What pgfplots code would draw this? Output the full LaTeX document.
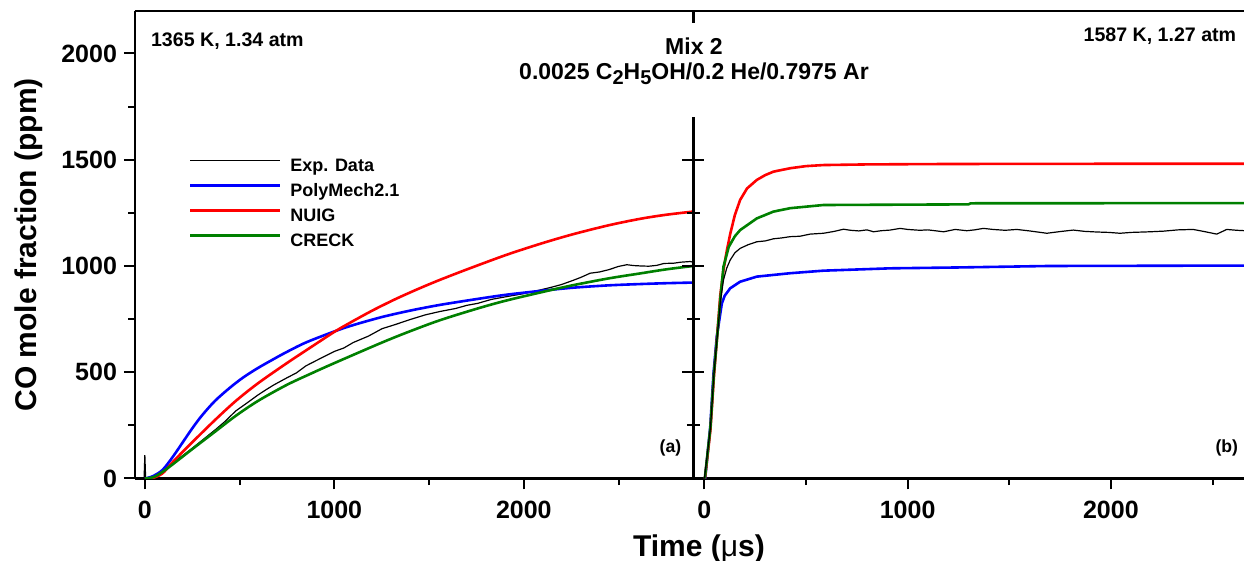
\documentclass[border=0pt]{standalone}
\usepackage{fontspec}
\setmainfont{Liberation Sans}
\usepackage{pgfplots}
\pgfplotsset{compat=1.18}
\definecolor{cgreen}{RGB}{0,128,0}
\newcommand\sub[1]{\raisebox{-2.5pt}{\fontsize{10}{10}\selectfont #1}}

\pgfplotsset{
  panel/.style={
    scale only axis, height=233.75pt,
    ymin=0, ymax=2200,
    xtick={0,1000,2000}, minor xtick={500,1500,2500},
    tick align=outside, major tick length=5.5pt, minor tick length=3.3pt,
    tick style={black, line width=1pt},
    axis line style={line width=1.3pt, -},
    ticklabel style={font=\bfseries\fontsize{12.5}{14}\selectfont},
    /pgf/number format/assume math mode=true,
    /pgf/number format/1000 sep={},
    scaled ticks=false,
    xticklabel style={yshift=-2pt},
    clip mode=individual,
  },
  expd/.style={black, line width=0.6pt},
  poly/.style={blue, line width=1.3pt},
  nuig/.style={red, line width=1.3pt},
  creck/.style={cgreen, line width=1.3pt},
}

\begin{document}
\begin{tikzpicture}
\useasboundingbox (-67.5pt,-41.25pt) rectangle (554.5pt,239.25pt);

% (a) 1365 K
\begin{axis}[panel,
  at={(0pt,0pt)}, anchor=south west,
  width=279.2pt, xmin=-52, xmax=2895,
  axis x line*=bottom, axis y line*=left,
  ytick={0,500,1000,1500,2000}, minor ytick={250,750,1250,1750},
  ylabel={CO mole fraction (ppm)},
  ylabel style={font=\bfseries\fontsize{15}{17}\selectfont, at={(axis description cs:-0.1755,0.5)}, anchor=base},
  xlabel={Time ({\mdseries μ}s)},
  xlabel style={font=\bfseries\fontsize{15}{17}\selectfont, at={(axis description cs:1.01,0)}, anchor=base, yshift=-39.25pt},
  legend style={at={(axis description cs:0.0955,0.6937)}, anchor=north west,
    draw=none, fill=none, inner sep=0pt, column sep=4.5pt, row sep=0pt,
    font=\bfseries\fontsize{9}{10}\selectfont,
    nodes={inner sep=0pt, text height=8.5pt, text depth=4pt}},
  legend cell align=left,
  legend image code/.code={\draw[#1] (0pt,3.2pt) -- (45pt,3.2pt);},
]
\addplot[expd] coordinates {
(-4,0)(0,110)(4,3)(40,6)(93,35)(150,75)(200,108)(244,138)(300,178)(370,228)
(420,266)(480,318)(540,356)(597,393)(640,418)(680,440)(748,473)(800,497)
(850,530)(920,562)(1000,598)(1050,614)(1100,640)(1180,670)(1252,705)(1320,724)
(1400,748)(1480,770)(1558,786)(1640,800)(1700,815)(1756,824)(1830,843)(1910,856)
(2000,870)(2086,887)(2150,901)(2200,913)(2262,933)(2300,946)(2350,966)(2400,972)
(2450,983)(2500,998)(2544,1006)(2580,1002)(2620,1000)(2660,999)(2702,1003)
(2740,1012)(2790,1013)(2830,1018)(2878,1021)(2893,1018)
};
\addlegendentry{Exp. Data}
\addplot[poly, smooth, tension=0.5] coordinates {
(0,0)(40,10)(93,40)(150,105)(244,228)(300,295)(370,365)(450,428)(520,476)
(597,520)(680,562)(748,595)(850,640)(1000,692)(1100,722)(1252,760)(1400,790)
(1558,817)(1756,845)(1910,865)(2100,884)(2262,898)(2450,909)(2614,915)
(2750,919)(2893,922)
};
\addlegendentry{PolyMech2.1}
\addplot[nuig, smooth, tension=0.5] coordinates {
(0,0)(40,2)(93,24)(150,80)(244,165)(370,275)(480,365)(597,448)(748,542)
(880,620)(1000,690)(1075,729)(1200,790)(1327,846)(1450,895)(1558,935)
(1700,984)(1910,1053)(2100,1108)(2262,1150)(2450,1192)(2614,1222)(2750,1241)
(2893,1256)
};
\addlegendentry{NUIG}
\addplot[creck, smooth, tension=0.5] coordinates {
(0,0)(50,8)(118,47)(244,134)(370,220)(480,295)(597,365)(748,440)(880,495)
(1000,543)(1252,640)(1400,693)(1558,745)(1756,800)(1910,838)(2139,886)
(2262,910)(2450,942)(2614,965)(2750,984)(2893,1000)
};
\addlegendentry{CRECK}
\draw[line width=1.3pt] (rel axis cs:0,1) -- (rel axis cs:1,1);
\end{axis}

% (b) 1587 K
\begin{axis}[panel,
  at={(279.2pt,0pt)}, anchor=south west,
  width=275.3pt, xmin=-54, xmax=2655,
  axis x line*=bottom, axis y line=none,
  ytick=\empty,
]
\addplot[poly] coordinates {
(0,0)(4,1)(29,244)(45,495)(61,667)(86,824)(100,860)(127,895)(176,926)
(258,950)(422,966)(586,978)(914,989)(1242,993)(1693,1000)(2660,1002)
};
\addplot[nuig] coordinates {
(3,0)(30,230)(47,480)(62,660)(78,860)(94,981)(110,1070)(127,1150)(150,1240)
(176,1311)(210,1365)(258,1405)(300,1428)(340,1444)(422,1460)(500,1470)
(586,1475)(800,1478)(1200,1480)(2000,1481)(2660,1481)
};
\addplot[creck] coordinates {
(2,0)(30,244)(47,495)(63,667)(80,860)(94,997)(120,1090)(150,1140)(176,1169)
(258,1224)(340,1256)(422,1272)(586,1287)(1300,1290)(1310,1295)(2660,1296)
};
\addplot[expd] coordinates {
(0,0)(30,240)(47,490)(63,665)(80,840)(94,934)(110,990)(127,1028)(150,1062)
(176,1083)(215,1100)(258,1114)(300,1118)(340,1128)(380,1132)(422,1138)
(470,1140)(520,1150)(586,1154)(640,1163)(684,1173)(720,1168)(760,1165)
(800,1170)(832,1161)(870,1166)(914,1169)(963,1177)(1000,1172)(1060,1168)
(1100,1170)(1177,1161)(1234,1172)(1291,1166)(1330,1170)(1373,1177)(1420,1172)
(1480,1168)(1537,1172)(1600,1165)(1685,1154)(1750,1162)(1815,1169)(1870,1163)
(1930,1160)(1990,1158)(2045,1154)(2100,1158)(2193,1161)(2260,1164)(2330,1170)
(2405,1172)(2460,1162)(2521,1150)(2570,1172)(2620,1168)(2660,1166)
};
% divider axis with crossing ticks, broken under the title
\draw[line width=1.3pt] (rel axis cs:0,0) -- (axis cs:-54,1701);
\draw[line width=1.3pt] (axis cs:-54,2144) -- (rel axis cs:0,1);
\pgfplotsinvokeforeach{500,1000,1500}{
  \draw[line width=1pt] ([xshift=-5.5pt]axis cs:-54,#1) -- ([xshift=5.5pt]axis cs:-54,#1);}
\pgfplotsinvokeforeach{250,750,1250}{
  \draw[line width=1pt] ([xshift=-3.3pt]axis cs:-54,#1) -- ([xshift=3.3pt]axis cs:-54,#1);}
\draw[line width=1.3pt] (rel axis cs:0,1) -- (rel axis cs:1,1);
\end{axis}

\begin{scope}[every node/.style={inner sep=0pt}]
\node[anchor=base west, font=\bfseries\fontsize{9.8}{11}\selectfont] at (7.85pt,215.9pt) {1365 K, 1.34 atm};
\node[anchor=base east, font=\bfseries\fontsize{9.8}{11}\selectfont] at (550.8pt,218.4pt) {1587 K, 1.27 atm};
\node[anchor=base, font=\bfseries\fontsize{11.5}{13}\selectfont] at (279.5pt,211.75pt) {Mix 2};
\node[anchor=base, font=\bfseries\fontsize{11.5}{13}\selectfont] at (279.5pt,199.25pt) {0.0025 C\sub{2}H\sub{5}OH/0.2 He/0.7975 Ar};
\node[font=\bfseries\fontsize{8.8}{10}\selectfont] at (267.75pt,15.25pt) {(a)};
\node[font=\bfseries\fontsize{8.8}{10}\selectfont] at (545.9pt,15.25pt) {(b)};
\end{scope}
\end{tikzpicture}
\end{document}
